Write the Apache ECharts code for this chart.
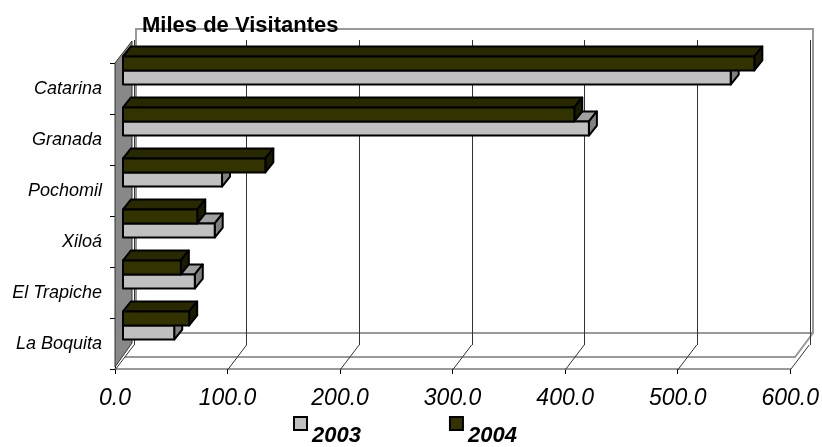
<!DOCTYPE html>
<html>
<head>
<meta charset="utf-8">
<script src="https://cdn.jsdelivr.net/npm/echarts@6/dist/echarts.min.js"></script>
<style>
  html, body { margin: 0; padding: 0; background: #fff; }
  #main { width: 822px; height: 447px; }
</style>
</head>
<body>
<div id="main"></div>
<script>
// datos (miles de visitantes)
var categories = ['Catarina', 'Granada', 'Pochomil', 'Xiloá', 'El Trapiche', 'La Boquita'];
var visitors2003 = [540, 414, 88, 81.5, 63.8, 45.5];
var visitors2004 = [561, 401, 126.5, 66, 51.4, 58.8];
var tickValues = [0, 100, 200, 300, 400, 500, 600];

var FONT = '"Liberation Sans", Arial, sans-serif';
// profundidad 3D de las barras y del piso
var BAR_DX = 8, BAR_DY = -10;
var FLOOR_DX = 19, FLOOR_DY = -25;

var myChart = echarts.init(document.getElementById('main'));

function toPairs(arr) {
  return arr.map(function (v, i) { return [v, i]; });
}

// barra 3D: cara frontal, superior y lateral
function barRenderer(front, top, side, upper) {
  return function (params, api) {
    var v = api.value(0), cat = api.value(1);
    var end = api.coord([v, cat]);
    var start = api.coord([0, cat]);
    var band = api.size([0, 1])[1];
    var h = band * 0.275;
    var c = end[1] - band * 0.353;
    var y0 = upper ? c - h : c;
    var y1 = upper ? c : c + h;
    var x0 = start[0] + BAR_DX;
    var x1 = end[0] + BAR_DX;
    var stroke = { stroke: '#000', lineWidth: 2, lineJoin: 'round' };
    return {
      type: 'group',
      children: [
        { type: 'polygon', shape: { points: [[x0, y0], [x1, y0], [x1 + BAR_DX, y0 + BAR_DY], [x0 + BAR_DX, y0 + BAR_DY]] },
          style: Object.assign({ fill: top }, stroke) },
        { type: 'polygon', shape: { points: [[x1, y0], [x1 + BAR_DX, y0 + BAR_DY], [x1 + BAR_DX, y1 + BAR_DY], [x1, y1]] },
          style: Object.assign({ fill: side }, stroke) },
        { type: 'rect', shape: { x: x0, y: y0, width: x1 - x0, height: y1 - y0 },
          style: Object.assign({ fill: front }, stroke) }
      ]
    };
  };
}

// lineas diagonales del piso
function floorRenderer(params, api) {
  var p = api.coord([api.value(0), 0]);
  var yb = params.coordSys.y + params.coordSys.height;
  return {
    type: 'line',
    shape: { x1: p[0], y1: yb + 1, x2: p[0] + FLOOR_DX, y2: yb + 1 + FLOOR_DY },
    style: { stroke: '#333', lineWidth: 1 }
  };
}

var option = {
  animation: false,
  textStyle: { fontFamily: FONT },
  title: {
    text: 'Miles de Visitantes',
    left: 142,
    top: 15,
    padding: 0,
    textStyle: { fontFamily: FONT, fontSize: 22, fontWeight: 'bold', color: '#000' }
  },
  legend: {
    data: ['2003', '2004'],
    left: 288,
    top: 411,
    icon: 'rect',
    itemWidth: 13,
    itemHeight: 13,
    itemGap: 88,
    itemStyle: { borderColor: '#000', borderWidth: 2 },
    formatter: '{y|{name}}',
    textStyle: {
      rich: {
        y: { fontFamily: FONT, fontSize: 22, fontWeight: 'bold', fontStyle: 'italic', color: '#000', lineHeight: 46, verticalAlign: 'bottom' }
      }
    }
  },
  graphic: [
    // pared del fondo
    { type: 'rect', shape: { x: 136, y: 29, width: 677, height: 304 }, style: { fill: 'none', stroke: '#999', lineWidth: 2 }, z: 0 },
    // piso
    { type: 'polyline', shape: { points: [[125, 357], [795, 357], [813, 333]] }, style: { fill: 'none', stroke: '#999', lineWidth: 2 }, z: 0 },
    // pared izquierda
    { type: 'polygon', shape: { points: [[115, 63], [132, 41], [132, 343], [115, 367]] }, style: { fill: '#888', stroke: '#333', lineWidth: 1 }, z: 1 }
  ],
  grid: [
    { left: 115, top: 63, width: 677, height: 306 },
    { left: 134, top: 40, width: 676, height: 305 }
  ],
  xAxis: [
    {
      type: 'value', gridIndex: 0, min: 0, max: 600, interval: 100,
      axisLine: { show: true, lineStyle: { color: '#999', width: 2 } },
      axisTick: { show: true, length: 5, lineStyle: { color: '#000' } },
      splitLine: { show: false },
      axisLabel: {
        showMinLabel: true, showMaxLabel: true, margin: 18,
        fontFamily: FONT, fontSize: 23, fontStyle: 'italic', color: '#000',
        formatter: function (v) { return v.toFixed(1); }
      }
    },
    {
      type: 'value', gridIndex: 1, min: 0, max: 600, interval: 100,
      axisLine: { show: false }, axisTick: { show: false }, axisLabel: { show: false },
      splitLine: { show: true, lineStyle: { color: '#333', width: 1 } }
    }
  ],
  yAxis: [
    {
      type: 'category', gridIndex: 0, data: categories, inverse: true,
      axisLine: { show: true, lineStyle: { color: '#000', width: 1 } },
      axisTick: { show: true, length: 5, lineStyle: { color: '#000' } },
      axisLabel: { margin: 13, fontFamily: FONT, fontSize: 18, fontStyle: 'italic', color: '#000' }
    },
    { type: 'category', gridIndex: 1, data: categories, inverse: true, show: false }
  ],
  series: [
    {
      name: 'floor', type: 'custom', xAxisIndex: 0, yAxisIndex: 0, silent: true, z: 1,
      renderItem: floorRenderer,
      data: tickValues.map(function (t) { return [t, 0]; })
    },
    {
      name: '2003', type: 'custom', xAxisIndex: 0, yAxisIndex: 0, z: 3,
      itemStyle: { color: '#c0c0c0', borderColor: '#000', borderWidth: 2 },
      renderItem: barRenderer('#c0c0c0', '#a0a0a0', '#808080', false),
      encode: { x: 0, y: 1 },
      data: toPairs(visitors2003)
    },
    {
      name: '2004', type: 'custom', xAxisIndex: 0, yAxisIndex: 0, z: 4,
      itemStyle: { color: '#333300', borderColor: '#000', borderWidth: 2 },
      renderItem: barRenderer('#333300', '#292900', '#1a1a00', true),
      encode: { x: 0, y: 1 },
      data: toPairs(visitors2004)
    }
  ]
};

myChart.setOption(option);
</script>
</body>
</html>
